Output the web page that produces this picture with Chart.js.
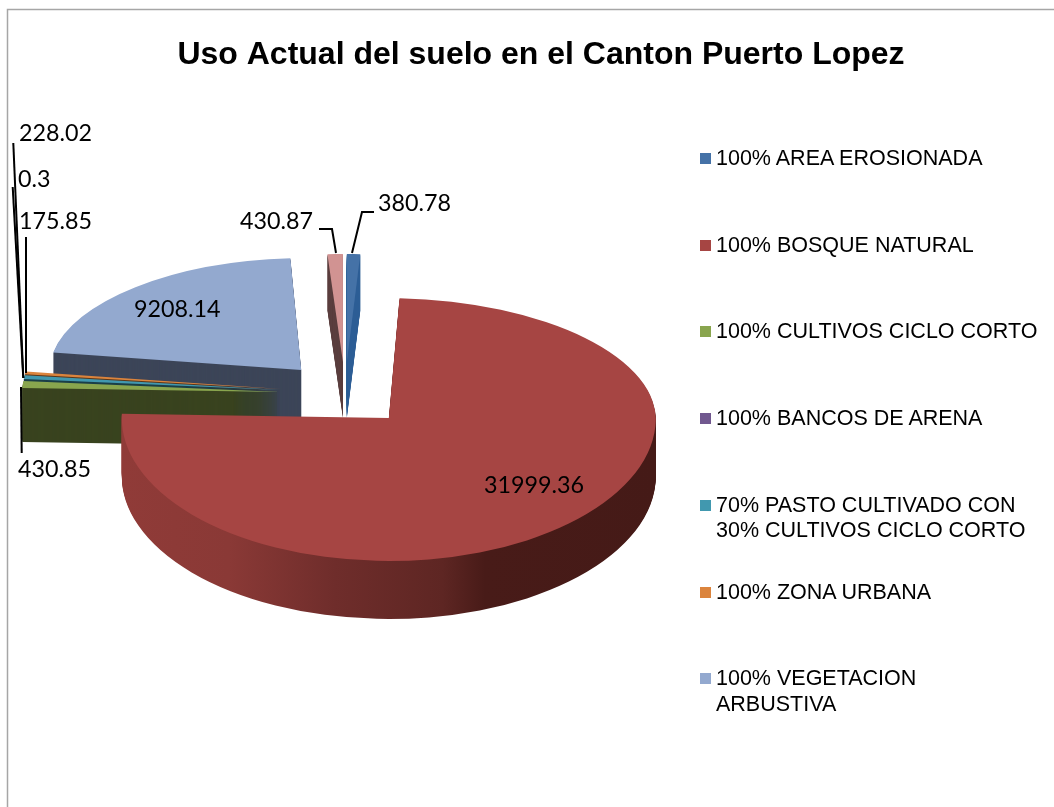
<!DOCTYPE html>
<html>
<head>
<meta charset="utf-8">
<title>Uso Actual del suelo</title>
<script src="https://cdn.jsdelivr.net/npm/chart.js@4/dist/chart.umd.min.js"></script>
<style>
    html, body { margin: 0; padding: 0; background: #fff; overflow: hidden; }
    #wrap { position: relative; width: 1054px; height: 807px; }
    #chart { position: absolute; left: 0; top: 0; }
    .legend-row { position: absolute; left: 700px; font: 21.5px/25.5px "Liberation Sans", Arial, sans-serif; color: #000; white-space: nowrap; }
    .legend-row i { position: absolute; left: 0; top: 7px; width: 11px; height: 11px; }
    .legend-row span { position: absolute; left: 16px; top: 0; }
</style>
</head>
<body>
<div id="wrap">
    <canvas id="chart" width="1054" height="807"></canvas>
</div>
<script>
const chartTitle = 'Uso Actual del suelo en el Canton Puerto Lopez';

// The last slice has no entry in the original legend
const categories = [
    ['100% AREA EROSIONADA'],
    ['100% BOSQUE NATURAL'],
    ['100% CULTIVOS CICLO CORTO'],
    ['100% BANCOS DE ARENA'],
    ['70% PASTO CULTIVADO CON', '30% CULTIVOS CICLO CORTO'],
    ['100% ZONA URBANA'],
    ['100% VEGETACION', 'ARBUSTIVA'],
    ['']
];
const values = [380.78, 31999.36, 430.85, 0.3, 228.02, 175.85, 9208.14, 430.87];

const topColors = ['#4572A7', '#A64543', '#89A54E', '#71588F', '#4198AF', '#DB843D', '#93A9CF', '#D19392'];
const sideColors = ['#2F5F96', null, '#39431F', '#2E2439', '#1B3F48', '#5B3719', '#3C4558', '#5B3F3F'];
const redSideStops = [[0, '#903B38'], [0.2, '#8A3936'], [0.4, '#6F2D2B'], [0.6, '#5E2623'], [0.68, '#481B18'], [1, '#451A17']];

// 3D look: per slice size on screen and extrusion depth, in the same order as values
const sliceRx = [242, 267, 258, 258, 258, 258, 252, 246];
const sliceRyTop = [108, 120, 112, 112, 112, 112, 112, 108];
const sliceRyBottom = [108, 143, 112, 112, 112, 112, 112, 108];
const sliceSkewTop = [0, 0.035, 0, 0, 0, 0, -0.045, 0];
const sliceDepth = [56, 58, 54, 54, 54, 54, 54, 56];
const paintOrder = [6, 5, 4, 3, 2, 7, 0, 1];

const pieCenter = { x: 345, y: 394 };
const explode = 65;
const explodeTilt = 0.5;

// Value labels: x, baseline and an optional leader line
const labelSpots = [
    { x: 378, y: 211, line: [[374, 212], [362, 212], [352, 253]] },
    { x: 484, y: 493 },
    { x: 18, y: 477, line: [[21.7, 453], [21, 387]] },
    { x: 18, y: 187, line: [[12.7, 187], [23.3, 378]] },
    { x: 19, y: 141, line: [[13.3, 143], [23.3, 378]] },
    { x: 19, y: 229, line: [[26, 237], [26, 373]] },
    { x: 134, y: 317 },
    { x: 240, y: 229, line: [[319, 229], [332, 229], [336, 253]] }
];

function drawFace(ctx, el, i, fill, shiftY) {
    const mid = (el.startAngle + el.endAngle) / 2;
    const apexX = pieCenter.x + Math.cos(mid) * explode;
    const apexY = Math.round(pieCenter.y + Math.sin(mid) * explode * explodeTilt) + shiftY;
    const saved = el.options;
    el.options = { ...saved, backgroundColor: fill };

    // Far half is flatter than the near half, this fakes the perspective
    const parts = [
        [0, apexY, sliceRyTop[i], sliceSkewTop[i]],
        [apexY, 807 - apexY, sliceRyBottom[i], 0]
    ];
    parts.forEach(part => {
        ctx.save();
        ctx.beginPath();
        ctx.rect(0, part[0], 1054, part[1]);
        ctx.clip();
        ctx.transform(1, 0, part[3], 1, apexX, apexY);
        ctx.scale(sliceRx[i] / el.outerRadius, part[2] / el.outerRadius);
        ctx.translate(-el.x, -el.y);
        el.draw(ctx);
        ctx.restore();
    });
    el.options = saved;
}

const pie3d = {
    id: 'pie3d',
    afterLayout(chart) {
        // Title is centred over the plot, not over the page
        chart.titleBlock.left += 28;
    },
    beforeDatasetsDraw(chart) {
        const ctx = chart.ctx;
        const arcs = chart.getDatasetMeta(0).data;
        const R = arcs[0].outerRadius;

        paintOrder.forEach(i => {
            const el = arcs[i];
            let side = sideColors[i];
            if (!side) {
                side = ctx.createLinearGradient(el.x - R, 0, el.x + R, 0);
                redSideStops.forEach(s => side.addColorStop(s[0], s[1]));
            }
            for (let d = sliceDepth[i]; d >= 1; d--) {
                drawFace(ctx, el, i, side, d);
            }
            drawFace(ctx, el, i, topColors[i], 0);
        });
        return false;
    },
    afterDraw(chart) {
        const ctx = chart.ctx;
        ctx.save();

        // Chart frame, cut off at the right and bottom of the page
        ctx.strokeStyle = '#a6a6a6';
        ctx.lineWidth = 1.5;
        ctx.beginPath();
        ctx.moveTo(7.5, 807);
        ctx.lineTo(7.5, 9.5);
        ctx.lineTo(1054, 9.5);
        ctx.stroke();

        ctx.strokeStyle = '#000';
        ctx.lineWidth = 2;
        ctx.fillStyle = '#000';
        ctx.font = '23.3px Lato';
        ctx.textBaseline = 'alphabetic';
        values.forEach((v, i) => {
            const spot = labelSpots[i];
            if (spot.line) {
                ctx.beginPath();
                spot.line.forEach((p, n) => n ? ctx.lineTo(p[0], p[1]) : ctx.moveTo(p[0], p[1]));
                ctx.stroke();
            }
            ctx.fillText(String(v), spot.x, spot.y);
        });
        ctx.restore();
    }
};

new Chart(document.getElementById('chart'), {
    type: 'pie',
    data: {
        labels: categories.map(c => c.join(' ')),
        datasets: [{
            data: values,
            backgroundColor: topColors,
            borderWidth: 0
        }]
    },
    options: {
        responsive: false,
        devicePixelRatio: 1,
        animation: false,
        radius: 200,
        layout: { padding: 0 },
        plugins: {
            legend: { display: false },
            tooltip: { enabled: false },
            title: {
                display: true,
                text: chartTitle,
                color: '#000',
                font: { family: '"Liberation Sans"', size: 32, weight: 'bold' },
                padding: { top: 36, bottom: 10 }
            }
        }
    },
    plugins: [pie3d]
});

// Legend slots are evenly spaced, two line entries do not push the next one down
const wrap = document.getElementById('wrap');
categories.forEach((lines, i) => {
    if (!lines[0]) return;
    const row = document.createElement('div');
    row.className = 'legend-row';
    row.style.top = (146 + i * 86.7) + 'px';
    row.innerHTML = '<i style="background:' + topColors[i] + '"></i><span>' + lines.join('<br>') + '</span>';
    wrap.appendChild(row);
});
</script>
</body>
</html>
